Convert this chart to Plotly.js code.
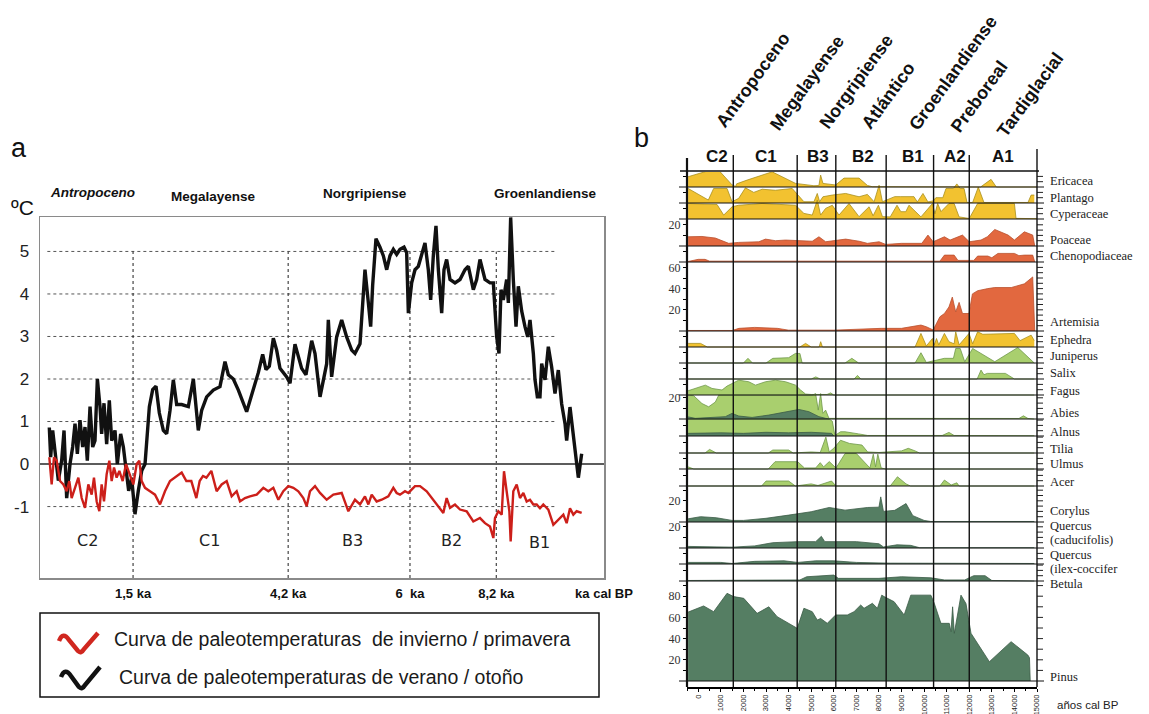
<!DOCTYPE html>
<html><head><meta charset="utf-8">
<script src="https://cdn.plot.ly/plotly-3.0.1.min.js"></script>
<style>html,body{margin:0;padding:0;background:#fff}#chart{width:1149px;height:714px}</style>
</head><body><div id="chart"></div>
<script>
// ================= DATA =================
// Panel a: position along the (non-linear) time axis, 0..100 of the box width
const kaTickPos  = [16.5, 44.0, 65.6, 80.9, 100];
const kaTickText = ['1,5 ka', '4,2 ka', '6  ka', '8,2 ka', 'ka cal BP'];
const tempTicks  = [-1, 0, 1, 2, 3, 4, 5];
const tempTickText = ['-1', '0', '1', '2', '3', '4', '5'];

const summerPos = [
1.65,1.89,2.25,2.66,3.25,3.84,4.26,4.73,5.32,5.79,
6.21,6.62,7.09,7.57,7.98,8.39,8.87,9.34,9.75,10.17,
10.64,10.93,11.35,11.82,12.29,12.71,13.30,13.71,14.30,14.78,
15.25,15.72,16.25,16.84,17.43,18.03,18.62,19.39,19.98,20.57,
21.16,21.87,22.46,23.05,23.64,24.23,25.12,26.30,27.19,28.07,
28.66,29.55,30.73,31.91,32.80,33.39,34.28,35.17,36.64,37.83,
38.71,39.48,40.07,40.66,41.37,41.96,42.55,43.74,44.33,45.21,
45.80,46.39,47.16,48.17,48.76,49.65,50.83,51.12,51.71,52.60,
53.49,54.37,55.26,55.85,56.74,57.62,58.22,58.63,58.98,59.57,
60.28,60.87,61.47,62.06,62.65,63.24,63.83,64.54,65.01,65.31,
65.90,66.49,67.08,67.67,68.26,68.85,69.27,69.74,70.21,70.63,
71.22,71.63,72.10,72.70,73.58,74.47,75.35,75.95,76.83,77.42,
78.01,78.90,79.79,80.38,80.97,81.38,81.74,82.15,82.74,83.04,
83.45,83.92,84.40,84.81,85.40,85.99,86.47,86.88,87.47,87.77,
88.18,88.65,88.95,89.54,90.13,90.72,91.31,91.90,92.49,93.09,
93.38,93.97,94.44,94.86,95.45,96.04];
const summerTemp = [
0.86,0.16,0.79,0.24,-0.39,0.08,0.79,-0.80,0.00,0.40,
0.95,0.24,1.03,0.40,0.87,0.08,1.35,0.40,0.55,2.00,
1.35,0.71,1.43,0.47,1.50,0.55,0.79,0.00,0.71,0.40,
-0.16,-0.63,-0.32,-1.18,-0.63,-0.16,0.00,1.35,1.75,1.83,
1.20,0.79,0.71,1.26,1.98,1.40,1.40,1.35,2.00,0.79,
1.26,1.58,1.74,1.82,2.41,2.10,2.00,1.74,1.23,1.74,
2.15,2.58,2.22,2.30,2.96,2.68,2.25,2.05,1.90,2.82,
2.50,2.25,2.10,2.90,2.60,1.58,2.36,3.39,2.05,2.99,
3.39,2.99,2.68,2.60,2.83,4.57,3.79,3.23,4.20,5.30,
5.10,4.90,4.57,4.90,5.05,4.93,5.05,5.10,4.97,3.55,
4.26,4.57,4.65,4.90,5.20,4.57,3.86,4.90,5.60,4.57,
3.55,4.57,4.81,4.34,4.26,4.34,4.57,4.65,4.10,4.34,
4.81,4.34,4.26,4.26,2.99,2.60,4.10,3.86,4.34,3.79,
5.80,4.34,3.23,4.18,3.60,3.23,2.99,3.39,2.60,1.98,
1.58,1.58,2.36,1.98,2.76,2.28,1.66,2.21,1.42,0.95,
0.55,1.34,0.79,0.47,-0.32,0.24];

const winterPos = [
1.65,2.07,2.48,2.96,3.55,4.14,4.73,5.20,5.61,6.21,
6.80,7.39,7.98,8.57,9.16,9.57,10.05,10.52,10.93,11.35,
11.82,12.29,12.71,13.12,13.59,14.07,14.66,15.25,15.96,16.55,
17.14,17.61,18.03,18.62,19.50,20.39,21.28,22.16,23.05,23.94,
25.12,25.95,26.83,27.72,28.31,28.90,29.50,30.38,31.32,32.21,
33.10,33.98,34.87,35.46,36.35,37.23,38.42,39.60,40.48,41.37,
42.26,43.14,44.03,44.92,45.80,46.69,47.28,47.87,48.76,49.65,
50.83,52.01,53.49,54.67,55.85,56.74,57.62,58.22,58.81,59.69,
60.58,61.76,62.65,63.24,63.83,64.72,65.31,66.49,67.38,68.56,
69.74,70.63,71.51,72.10,72.70,73.58,74.47,75.65,76.83,78.01,
78.90,79.79,80.38,80.67,81.26,81.86,82.27,82.74,83.22,83.45,
83.92,84.52,85.11,85.70,86.29,86.88,87.47,88.06,88.65,89.24,
90.13,91.02,91.61,92.20,92.79,93.38,93.97,94.56,95.15,96.04];
const winterTemp = [
0.16,-0.48,0.16,0.08,-0.40,-0.48,-0.64,-0.40,-0.80,-0.56,
-0.32,-0.80,-1.03,-0.48,-0.72,-0.32,-0.88,-1.11,-0.48,-0.88,
-0.24,0.08,-0.40,-0.08,-0.32,-0.16,-0.40,0.00,-0.24,-0.48,
0.00,0.08,-0.40,-0.56,-0.64,-0.72,-0.95,-0.64,-0.40,-0.32,
-0.20,-0.40,-0.40,-0.80,-0.40,-0.28,-0.32,-0.16,-0.64,-0.48,
-0.40,-0.76,-0.64,-0.88,-0.80,-0.76,-0.72,-0.56,-0.64,-0.56,
-0.84,-0.64,-0.52,-0.56,-0.64,-0.80,-0.99,-0.64,-0.52,-0.68,
-0.84,-0.72,-0.68,-1.11,-0.84,-0.95,-0.76,-0.95,-0.72,-0.88,
-0.84,-0.76,-0.56,-0.68,-0.72,-0.64,-0.68,-0.52,-0.52,-0.64,
-0.84,-0.99,-1.15,-0.80,-1.03,-0.95,-1.07,-1.11,-1.35,-1.27,
-1.39,-1.47,-1.74,-1.27,-1.11,-1.19,-0.17,-0.64,-1.11,-1.82,
-0.64,-0.48,-0.80,-0.68,-0.88,-0.84,-0.95,-0.95,-1.04,-0.95,
-1.07,-1.43,-1.35,-1.27,-1.19,-1.39,-1.04,-1.19,-1.11,-1.15];

const zoneNamesA = ['C2', 'C1', 'B3', 'B2', 'B1'];
const periodNamesA = ['Antropoceno', 'Megalayense', 'Norgripiense', 'Groenlandiense'];
const legendTexts = ['Curva de paleotemperaturas  de invierno / primavera',
                     'Curva de paleotemperaturas de verano / otoño'];

// Panel b: pollen diagram (years cal BP, %)
const zoneBounds = [1550, 4380, 6090, 8320, 10420, 12000];
const zoneNamesB = ['C2', 'C1', 'B3', 'B2', 'B1', 'A2', 'A1'];
const periodNamesB = ['Antropoceno', 'Megalayense', 'Norgripiense', 'Atlántico', 'Groenlandiense', 'Preboreal', 'Tardiglacial'];
const yearTicks = [0,1000,2000,3000,4000,5000,6000,7000,8000,9000,10000,11000,12000,13000,14000,15000];

const ericYrs = [-450,533,903,1495,1650,1700,2160,3270,4307,5121,5343,5417,5520,6083,6453,7119,7489,7700,12500,12965,13200,15000];
const ericVal = [9.7,15.9,15.9,2,0.5,3,6.5,14.3,3.4,1.2,1.5,11.2,3.4,1.9,8.4,8.4,1.5,0.3,0,7.2,0,0];
const plantYrs = [-450,444,680,1273,1495,1791,2087,2457,2827,3419,4159,4677,5121,5269,5373,5520,5935,6527,7119,7489,7785,8007,8155,8700,8970,9550,9700,9950,10170,10400,10520,10830,10970,11300,11450,11600,11770,11900,12150,12400,12650,14600,14740,14880];
const plantVal = [13.7,2.8,13.7,13.7,1.2,4.4,14.3,10,13,12,13.7,1.2,1.2,9,1.2,5.9,7.5,9,5.9,8.1,1.2,16.8,1.2,6,6,6,1,9,1,2,5,5,13.7,13.7,18,13.7,13.7,0.5,0.5,15,0.5,0.5,7.5,7.5];
const cypYrs = [-450,830,1125,1495,1791,2827,4307,4677,5047,5269,5417,5639,5935,6231,6675,7119,7563,7741,7977,8155,8500,8800,8970,9190,9330,9860,10370,10480,10600,10750,11100,11330,11550,12000,12370,14000,14070,15000];
const cypVal = [14.6,13.7,3.7,11.5,13,14.6,13,5.3,3.7,17.8,3.7,10,13,3.7,14.6,2.2,11.5,3,13,2.2,2,13,6.9,6.9,13,2,14.6,5,14.6,7,14.6,14.6,2,0.5,14.6,14.6,0.6,0.3];
const poaYrs = [-450,163,755,1347,1791,2680,2975,3419,3863,4307,5047,5343,5639,6527,7119,7489,8007,8303,9000,9900,10170,10400,10900,11150,11700,12000,12520,12800,13130,13720,14000,14440,14810,14900];
const poaVal = [8.7,9,7.5,2.5,3.4,4,6.5,5,5.6,5,4.5,8.7,4,6.5,4.5,2.5,4,1.5,2.5,2.5,10.3,4,8.7,5.6,10.3,4,5.6,8.7,15.6,10.3,5.6,13.4,10.3,0];
const chenYrs = [-450,0,300,500,10700,10900,11330,11500,12200,12370,12820,13000,13270,14000,14200,14440,14810,14900];
const chenVal = [0.5,2.5,2.5,0.8,0.8,6.5,6.5,1.5,1.5,5.6,5.6,4,8.1,8.1,6,6.5,6.5,0];
const artYrs = [-450,1500,1800,2500,3500,4000,6000,8100,9000,9860,10100,10400,10700,10900,11100,11250,11400,11550,11700,11990,12140,12370,12820,13130,13860,14440,14810,14900];
const artVal = [0.5,0.5,2.5,3.4,2.5,0.8,0.8,2.5,2.5,5.6,4,1,13.4,16.5,22.7,32,18,27,16.5,16.5,35,38,40,41,41,44.5,51,0];
const ephYrs = [-450,100,400,4500,4750,5000,5350,5420,5500,9600,9860,10100,10370,10450,10550,10650,10900,11100,11330,11400,11550,11990,12150,12370,12600,13500,14000,14250,14740,14880];
const ephVal = [3.4,3.4,0,0,3.4,0,0,5,0,0,12.8,1,8,2,8,2,12.8,5,3,14.3,2,12.8,3,14.3,12,12.8,12.8,6,11.2,6];
const junYrs = [-450,2000,2200,2400,3000,3300,4000,4300,4500,4600,6500,6800,7100,9600,9860,10100,10900,11300,11400,11600,11800,12150,12520,13130,14150,14700,14880];
const junVal = [0,0,4.4,0,0,4.4,5,9,9,0,0,4.4,0,0,9.7,0.5,4.4,4.4,13.7,13.7,1.2,13.7,9,1.2,14.6,3,0];
const salYrs = [-450,5000,5200,5400,6900,7050,7200,12350,12520,12650,12800,13600,14000,14880];
const salVal = [0,0,2,0,0,3.4,0,0,8.4,4,5.3,5.3,0,0];
const fagYrs = [-450,15,311,607,1051,1273,1791,2235,2531,2975,3419,3863,4307,4529,4751,5000,5700,5860,6000,14880];
const fagVal = [4,7.2,9.3,6.2,4.7,8.4,14,12.5,9.3,12.5,14,12.5,9.3,4.7,0.9,0.5,0.5,2,0,0];
const abiYrs = [-450,-207,163,459,755,903,5047,5195,5313,5417,5520,5639,5787,14200,14400,14600,14880];
const abiVal = [22.4,22,14.6,11.5,16,22.4,22.4,24,8.4,24,5.3,8.4,0.6,0.5,3,0.5,0];
const abiDarkYrs = [-450,-133,1199,1495,1791,2383,3123,3863,4455,4899,5343,5639,5800];
const abiDarkVal = [2,0.6,2.2,5.3,2.8,1.5,3.7,6.9,9,6.9,2.2,0.6,0];
const alnYrs = [-450,5800,5935,6050,6300,6500,7100,7500,10800,11100,11330,14880];
const alnVal = [15.9,15.9,14,0.5,4,4,2,0.5,0.5,3.4,0.5,0.3];
const alnDarkYrs = [-450,1000,2000,3000,4000,5000,5900,6000];
const alnDarkVal = [2.5,3,2.5,3.5,3,3.5,2.5,0];
const tilYrs = [-450,300,500,800,3100,3300,4000,4200,5000,5400,5650,5800,6000,6300,6700,7250,7500,8000,9000,9300,9600,9800,14880];
const tilVal = [0,0,3.4,0,0,2.8,2.8,0,1,0.5,15,1,4.5,12,9,7.5,1,0.5,2,4.4,2,0,0];
const ulmYrs = [-450,-200,3100,3400,4400,4700,5200,5400,5550,5800,6100,6500,7000,7300,7600,7750,7850,7950,8100,8300,14880];
const ulmVal = [2,0,0,6.9,6.9,1,1,6,2,7,1,14.6,14.6,8,1,14,2,14,1,0,0];
const aceYrs = [-450,2800,3000,4000,4300,5000,5300,5900,6100,8500,8820,9200,9400,10700,10900,11200,11450,11550,14880];
const aceVal = [0,0,4.7,4.7,0,2,0.5,4.7,0,0,8.7,2,0,0,5.6,1,3,0,0];
const corYrs = [-450,100,800,1500,2000,3000,4000,5000,5800,6500,7500,8000,8080,8200,8700,9200,9500,10000,10300,14880];
const corVal = [3,5,4,1.5,1.5,3.5,6.5,9.7,13.7,11.2,13.7,14,23.7,10,11,17.4,6,1.5,0.5,0.5];
const qcaYrs = [-450,1500,2500,3300,4400,5200,5450,5600,7000,8000,8200,8800,9400,9800,14880];
const qcaVal = [1.5,0.8,2,5,6,6,11,6,6,4,1,3,2.5,0.3,0.3];
const qilYrs = [-450,1000,1500,2500,3800,4400,5200,6000,7000,8500,14880];
const qilVal = [1.5,1.5,0.5,2.5,3,1.5,3,3,1.5,0.8,0.5];
const betYrs = [-450,4500,4800,6000,6200,8000,9000,10300,10900,11800,12200,12700,13000,14880];
const betVal = [0.5,1,4,5.6,2.5,2.5,4,3,1,1,5,5,0.5,0];
const pinYrs = [-450,236,680,1273,1569,2013,2605,3123,3493,4381,4677,5047,5269,5417,5713,5935,6083,6601,6897,7193,7341,7711,7933,8125,8229,8673,9117,9412,10300,10450,10745,11115,11190,11263,11337,11633,11855,12077,12891,13853,14593,14667,14700];
const pinVal = [65,70.8,65.4,82.7,79.6,78,63.8,70,60.7,49.7,68.6,65.4,57.5,59,54.4,59,62.3,62.3,65.4,71.7,68.6,73.3,68.6,81,79.6,74.8,62.3,81,81,73.3,54.4,54.4,46.5,70,45,81,73,45,18.2,37.1,24.5,22,0];

const taxa = ['Ericacea','Plantago','Cyperaceae','Poaceae','Chenopodiaceae','Artemisia','Ephedra','Juniperus','Salix','Fagus','Abies','Alnus','Tilia','Ulmus','Acer','Corylus','Quercus (caducifolis)','Quercus (ilex-coccifer','Betula','Pinus'];
const taxaYears = [ericYrs,plantYrs,cypYrs,poaYrs,chenYrs,artYrs,ephYrs,junYrs,salYrs,fagYrs,abiYrs,alnYrs,tilYrs,ulmYrs,aceYrs,corYrs,qcaYrs,qilYrs,betYrs,pinYrs];
const taxaValues = [ericVal,plantVal,cypVal,poaVal,chenVal,artVal,ephVal,junVal,salVal,fagVal,abiVal,alnVal,tilVal,ulmVal,aceVal,corVal,qcaVal,qilVal,betVal,pinVal];
const scaleLabels = {3:[20], 5:[20,40,60], 10:[20], 15:[20], 16:[20], 19:[20,40,60,80]};

// ================= LAYOUT / STYLE =================
const W = 1149, H = 714;
const fx = p => p / W, fy = p => 1 - p / H;
const SANS = '"Liberation Sans", Arial, sans-serif';
const SERIF = '"Liberation Serif", "Times New Roman", serif';
const WIDE = '"DejaVu Sans", Verdana, sans-serif';

// panel b geometry (pixels)
const PB_TOP = 172, PB_BOT = 687, PB_L = 687, PB_R = 1037, K = 1.06;
const rowBase = [187,203,219,246,262,331,347,363,379,395,419,436,453,469,486,522,548,564,581,681];
const rowKind = ['Y','Y','Y','O','O','O','Y','G','G','G','G','G','G','G','G','D','D','D','D','D'];
const FILL = {Y:'#f2c230', O:'#e2683f', G:'#a9cf6e', D:'#557e63'};
const EDGE = {Y:'#a88f1c', O:'#b9512d', G:'#6f9849', D:'#3b5c46'};
const rowLabels = [['Ericacea',181],['Plantago',198],['Cyperaceae',214],['Poaceae',240],['Chenopodiaceae',256],
  ['Artemisia',322],['Ephedra',340],['Juniperus',356],['Salix',373],['Fagus',391],['Abies',413],['Alnus',432],
  ['Tilia',449],['Ulmus',464],['Acer',482],['Corylus',511],['Quercus',525.5],['(caducifolis)',540],
  ['Quercus',554.5],['(ilex-coccifer',569],['Betula',583.5],['Pinus',677]];

const traces = [];
// ---- panel a curves
traces.push({type:'scatter', mode:'lines', x:summerPos, y:summerTemp, xaxis:'x', yaxis:'y',
  line:{color:'#111', width:3.4}, name:legendTexts[1]});
traces.push({type:'scatter', mode:'lines', x:winterPos, y:winterTemp, xaxis:'x', yaxis:'y',
  line:{color:'#cc1f1a', width:2.4}, name:legendTexts[0]});

const layout = {
  width: W, height: H, margin:{l:0, r:0, t:0, b:0}, paper_bgcolor:'#fff', plot_bgcolor:'rgba(0,0,0,0)',
  showlegend:false, font:{family:SANS, color:'#111'},
  xaxis:{domain:[fx(40), fx(604)], range:[0,100], anchor:'y', showgrid:false, zeroline:false,
    showline:true, mirror:true, linecolor:'#8a8a8a', linewidth:1.5, ticks:'',
    tickvals:kaTickPos, ticktext:kaTickText, ticklabelstandoff:3,
    tickfont:{family:SANS, size:13, color:'#111', weight:'bold'}},
  yaxis:{domain:[fy(578), fy(217)], range:[-2.68, 5.81], anchor:'x', showgrid:false, zeroline:false,
    showline:true, mirror:true, linecolor:'#8a8a8a', linewidth:1.5, ticks:'',
    tickvals:tempTicks, ticktext:tempTickText, ticklabelstandoff:6, tickfont:{family:SANS, size:17, color:'#222'}},
  xaxis2:{domain:[fx(PB_L), fx(PB_R)], range:[-500, 15000], anchor:'y2', showgrid:false, zeroline:false,
    showline:true, linecolor:'#000', linewidth:1.5, ticks:'outside', ticklen:3, tickcolor:'#000',
    tickvals:yearTicks, ticktext:yearTicks.map(String), tickangle:-90,
    minor:{tick0:0, dtick:500, ticks:'outside', ticklen:2, tickcolor:'#000'},
    tickfont:{family:SANS, size:7.5, color:'#222'}},
  shapes:[], annotations:[]
};

// ---- panel b rows
taxa.forEach((name, i) => {
  const base = rowBase[i];
  const prev = i === 0 ? PB_TOP : rowBase[i-1];
  const rowMax = (base - prev) / K;
  const ax = 'y' + (i + 2);
  const labs = scaleLabels[i] || [];
  const tv = [];
  for (let v = 10; v < rowMax - 0.5; v += 10) tv.push(v);
  labs.forEach(v => { if (!tv.includes(v)) tv.push(v); });
  const yax = {domain:[fy(PB_BOT), fy(PB_TOP)], range:[-(PB_BOT - base) / K, (base - PB_TOP) / K],
    anchor:'x2', showgrid:false, zeroline:false, showline:false, side:'left',
    ticks:'outside', ticklen:3, tickcolor:'#000', tickvals:tv,
    ticktext:tv.map(v => labs.includes(v) ? String(v) : ''),
    tickfont:{family:SERIF, size:12, color:'#333'}};
  if (i > 0) yax.overlaying = 'y2';
  layout['yaxis' + (i + 2)] = yax;
  const k = rowKind[i];
  traces.push({type:'scatter', mode:'lines', x:taxaYears[i], y:taxaValues[i], xaxis:'x2', yaxis:ax,
    fill:'tozeroy', fillcolor:FILL[k], line:{color:EDGE[k], width:0.8}, name:name});
  if (name === 'Abies') traces.push({type:'scatter', mode:'lines', x:abiDarkYrs, y:abiDarkVal, xaxis:'x2', yaxis:ax,
    fill:'tozeroy', fillcolor:FILL.D, line:{color:EDGE.D, width:0.8}, name:'Abies'});
  if (name === 'Alnus') traces.push({type:'scatter', mode:'lines', x:alnDarkYrs, y:alnDarkVal, xaxis:'x2', yaxis:ax,
    fill:'tozeroy', fillcolor:FILL.D, line:{color:EDGE.D, width:0.8}, name:'Alnus'});
  layout.shapes.push({type:'line', xref:'paper', yref:ax, x0:fx(679), x1:fx(1044), y0:0, y1:0,
    line:{color:'#111', width:1.2}, layer:'above'});
  const step = i === 19 ? 10 : 5;
  for (let v = step; v < rowMax - 0.5; v += step)
    layout.shapes.push({type:'line', xref:'paper', yref:ax, x0:fx(PB_R), x1:fx(PB_R + 6), y0:v, y1:v,
      line:{color:'#222', width:1}, layer:'above'});
});

zoneBounds.forEach(b => layout.shapes.push({type:'line', xref:'x2', yref:'paper', x0:b, x1:b,
  y0:fy(PB_BOT), y1:fy(155), line:{color:'#111', width:1.4}, layer:'above'}));
layout.shapes.push({type:'line', xref:'paper', yref:'paper', x0:fx(680), x1:fx(1039), y0:fy(171), y1:fy(171), line:{color:'#111', width:1.3}});
layout.shapes.push({type:'line', xref:'paper', yref:'paper', x0:fx(PB_L), x1:fx(PB_L), y0:fy(PB_BOT), y1:fy(158), line:{color:'#111', width:2.2}, layer:'above'});
layout.shapes.push({type:'line', xref:'paper', yref:'paper', x0:fx(PB_R), x1:fx(PB_R), y0:fy(PB_BOT), y1:fy(149), line:{color:'#111', width:1.4}, layer:'above'});

// panel a grid
[-1,1,2,3,4,5].forEach(l => layout.shapes.push({type:'line', xref:'x', yref:'y', x0:1.3, x1:91.3, y0:l, y1:l,
  line:{color:'#555', width:1, dash:'dot'}, layer:'below'}));
kaTickPos.slice(0,4).forEach(p => layout.shapes.push({type:'line', xref:'x', yref:'y', x0:p, x1:p, y0:-2.68, y1:5,
  line:{color:'#333', width:1.1, dash:'dot'}, layer:'below'}));
layout.shapes.push({type:'line', xref:'x', yref:'y', x0:0, x1:100, y0:0, y1:0, line:{color:'#5c5c5c', width:2}, layer:'below'});

// legend box + icons
layout.shapes.push({type:'rect', xref:'paper', yref:'paper', x0:fx(40), x1:fx(599), y0:fy(697), y1:fy(613), line:{color:'#111', width:1.5}});
function pxPath(s){ let n = 0; return s.replace(/-?\d+(\.\d+)?/g, m => (n++ % 2 === 0 ? fx(+m) : fy(+m)).toFixed(5)); }
layout.shapes.push({type:'path', xref:'paper', yref:'paper', path:pxPath('M 59 641 Q 63 631 69 640 L 78 651 Q 81 654 84 649 L 98 633'), line:{color:'#d0271f', width:4.5}});
layout.shapes.push({type:'path', xref:'paper', yref:'paper', path:pxPath('M 61 677 Q 65 667 71 676 L 79 687 Q 82 690 85 685 L 100 667'), line:{color:'#111', width:4.5}});

// ---- annotations
const A = layout.annotations;
const txt = (text, x, y, font, extra) => A.push(Object.assign({text, x:fx(x), y:fy(y), xref:'paper', yref:'paper',
  showarrow:false, xanchor:'center', yanchor:'middle', font}, extra || {}));
txt('a', 19, 148, {family:SANS, size:27, color:'#111'});
txt('b', 641, 138, {family:SANS, size:27, color:'#111'});
txt('ºC', 22, 207, {family:SANS, size:21, color:'#111'});
const perA = [[92,193],[213,196],[365,194],[545,194]];
periodNamesA.forEach((t, i) => txt(t, perA[i][0], perA[i][1],
  {family:SANS, size:13.5, color:'#111', weight:'bold', style: i === 0 ? 'italic' : 'normal'}));
const zonA = [[87,540],[209,540],[352,540],[451,540],[539,542]];
zoneNamesA.forEach((t, i) => txt(t, zonA[i][0], zonA[i][1], {family:WIDE, size:16, color:'#222'}));
txt(legendTexts[0], 112, 639, {family:SANS, size:19.5, color:'#1a1a1a'}, {xanchor:'left'});
txt(legendTexts[1], 117, 677, {family:SANS, size:19.5, color:'#1a1a1a'}, {xanchor:'left'});

const zonB = [850, 3000, 5300, 7300, 9500, 11350, 13500];
zoneNamesB.forEach((t, i) => A.push({text:t, x:zonB[i], y:fy(156), xref:'x2', yref:'paper', showarrow:false,
  xanchor:'center', yanchor:'middle', font:{family:SANS, size:17, color:'#111', weight:'bold'}}));
const perB = [[753,80],[807,83],[856,82],[888,96],[953,73],[979,97],[1030,95]];
periodNamesB.forEach((t, i) => txt(t, perB[i][0], perB[i][1], {family:SANS, size:18, color:'#111', weight:'bold'}, {textangle:-54}));
rowLabels.forEach(([t, y]) => txt(t, 1048, y, {family:SERIF, size:12.5, color:'#222'}, {xanchor:'left'}));
txt('años cal BP', 1088, 705, {family:SANS, size:11.5, color:'#222'});

Plotly.newPlot('chart', traces, layout, {staticPlot:true});
</script></body></html>
